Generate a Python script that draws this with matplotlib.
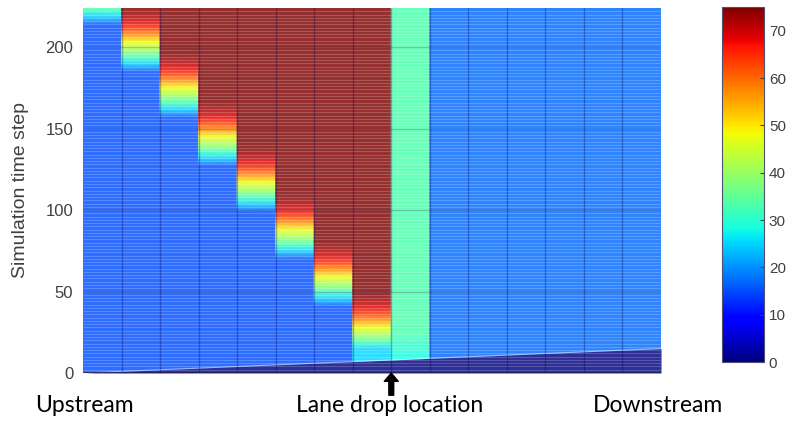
import numpy as np
import matplotlib
matplotlib.use('Agg')
import matplotlib.pyplot as plt
from matplotlib.colors import ListedColormap, Normalize
from matplotlib.cm import ScalarMappable

# time steps shown and road segments (upstream -> downstream)
n_steps = 224
n_segments = 15
n_upstream = 8          # lane drop sits after the 8th segment
v_max = 75

# value of each segment before the queue reaches it
free_value = [15, 15, 15, 15, 15, 15, 15, 25, 33, 17, 17, 17, 17, 17, 17]

# time step where the queue front (yellow) passes each upstream segment
jam_centre = [232, 203, 175, 145, 117, 88, 59, 28]
# shape of the queue front around that step
ramp_offset = [-13, -9, -5, 0, 4, 8, 12, 16, 21]
ramp_value = [25, 32, 40, 48, 56, 63, 68, 72, 75]
jam_value = 75

# lane drop segment: slightly lower near the start
drop_steps = [10, 25]
drop_values = [28, 33]

# empty road at the start, filling in from upstream
base_top = [0, 1, 2, 3, 4, 5, 6, 7, 8, 9, 10, 11, 12, 13, 14, 15]
base_value = 0

jet = plt.get_cmap('jet')
washed = ListedColormap(jet(np.linspace(0, 1, 256))[:, :3] * 0.82 + 0.18)
norm = Normalize(0, v_max)

fig = plt.figure(figsize=(7.95, 4.21), dpi=100)
ax = fig.add_axes([83 / 795, 48 / 421, 578 / 795, 365 / 421])

top = n_steps + 20
for i in range(n_segments):
    if i < n_upstream:
        c = jam_centre[i]
        steps = [0, c - 18] + [c + o for o in ramp_offset] + [max(top, c + 25)]
        vals = [free_value[i], free_value[i]] + ramp_value + [jam_value]
    elif i == n_upstream:
        steps = [0] + drop_steps + [top]
        vals = [drop_values[0]] + drop_values + [free_value[i]]
    else:
        steps = [0, top]
        vals = [free_value[i], free_value[i]]
    Y = np.column_stack([steps, steps])
    X = np.column_stack([np.full(len(steps), i), np.full(len(steps), i + 1)])
    C = np.column_stack([vals, vals])
    ax.pcolormesh(X, Y, C, cmap=washed, norm=norm, shading='gouraud', zorder=1)

bounds = np.arange(n_segments + 1)
ax.fill_between(bounds, 0, base_top, color=washed(norm(base_value)), zorder=1.5, lw=0)
ax.plot(bounds, base_top, color='white', alpha=0.5, lw=0.8, zorder=1.6)

# mesh lines
ax.hlines(np.arange(0, n_steps, 2), 0, n_segments, color='white', alpha=0.2, lw=0.8, zorder=2)
ax.vlines(bounds[1:-1], 0, n_steps, color='#000050', alpha=0.3, lw=1.0, zorder=2)
ax.hlines([50, 100, 150, 200], 0, n_segments, color='#000030', alpha=0.22, lw=0.9, zorder=2)

ax.set_xlim(0, n_segments)
ax.set_ylim(0, n_steps)
ax.set_xticks([])
ax.set_yticks([0, 50, 100, 150, 200])
ax.tick_params(axis='y', direction='in', length=0, labelsize=12, labelcolor='#404040', pad=7)
for s in ax.spines.values():
    s.set_visible(False)
ax.axhline(0, color='#202060', lw=1.2, zorder=3)
for lab in ax.get_yticklabels():
    lab.set_family('Liberation Sans')
ax.set_ylabel('Simulation time step', fontsize=14, color='#404040',
              family='Liberation Sans', labelpad=12)

# arrow at lane drop location
ax.annotate('', xy=(n_upstream, 0), xycoords='data', xytext=(0, -16), textcoords='offset points',
            arrowprops=dict(arrowstyle='simple,head_width=1.0,head_length=0.6,tail_width=0.35',
                            color='black', shrinkA=0, shrinkB=0))

ty = 1 - 412 / 421
fig.text(35 / 795, ty, 'Upstream', fontsize=16.5, family='Lato', va='baseline', ha='left')
fig.text(390 / 795, ty, 'Lane drop location', fontsize=16.5, family='Lato', va='baseline', ha='center')
fig.text(658 / 795, ty, 'Downstream', fontsize=16.5, family='Lato', va='baseline', ha='center')

cax = fig.add_axes([722 / 795, 59 / 421, 42 / 795, 355 / 421])
cb = fig.colorbar(ScalarMappable(norm=norm, cmap=jet), cax=cax)
cb.set_ticks(np.arange(0, 71, 10))
cb.ax.tick_params(direction='in', length=3, labelsize=11, labelcolor='#404040', color='#404040')
for lab in cb.ax.get_yticklabels():
    lab.set_family('Liberation Sans')
cb.outline.set_edgecolor('#505070')
cb.outline.set_linewidth(0.8)

fig.savefig('out.png', dpi=100)
